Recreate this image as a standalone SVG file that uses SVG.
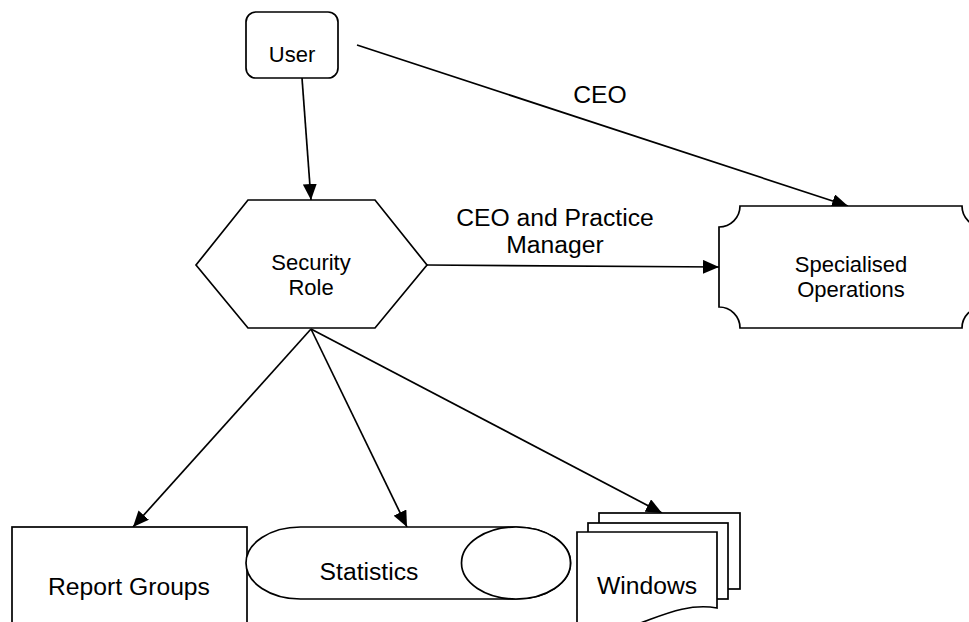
<svg xmlns="http://www.w3.org/2000/svg" width="969" height="622" viewBox="0 0 969 622">
<style>
.s{fill:#fff;stroke:#000;stroke-width:1.7}
.c{fill:none;stroke:#000;stroke-width:1.7}
text{font-family:"Liberation Sans",Arial,sans-serif;fill:#000;text-anchor:middle}
.n{font-size:22px}
.l{font-size:24.7px}
</style>
<defs>
<marker id="ah" viewBox="0 0 16 14" refX="16" refY="7" markerWidth="16" markerHeight="14" markerUnits="userSpaceOnUse" orient="auto">
<path d="M0,0 L16,7 L0,14 z" fill="#000"/>
</marker>
</defs>
<g id="connectors">
<line class="c" x1="302" y1="78" x2="311" y2="200" marker-end="url(#ah)"/>
<line class="c" x1="357" y1="45" x2="848" y2="206" marker-end="url(#ah)"/>
<line class="c" x1="427" y1="265" x2="719" y2="267" marker-end="url(#ah)"/>
<line class="c" x1="311" y1="329" x2="133" y2="527" marker-end="url(#ah)"/>
<line class="c" x1="311" y1="329" x2="407" y2="527" marker-end="url(#ah)"/>
<line class="c" x1="311" y1="329" x2="662" y2="513" marker-end="url(#ah)"/>
<text class="l" x="600" y="103">CEO</text>
<text class="l" x="555" y="226">CEO and Practice</text>
<text class="l" x="555" y="253">Manager</text>
</g>
<g id="user">
<rect class="s" x="246" y="12" width="92" height="66" rx="10"/>
<text class="n" x="292" y="62">User</text>
</g>
<g id="security-role">
<polygon class="s" points="248,200 375,200 427,265 375,328 248,328 196,265"/>
<text class="n" x="311" y="270">Security</text>
<text class="n" x="311" y="295">Role</text>
</g>
<g id="specialised-operations">
<path class="s" d="M740,206 H962 A21,21 0 0 0 983,227 V307 A21,21 0 0 0 962,328 H740 A21,21 0 0 0 719,307 V227 A21,21 0 0 0 740,206 Z"/>
<text class="n" x="851" y="272">Specialised</text>
<text class="n" x="851" y="297">Operations</text>
</g>
<g id="report-groups">
<rect class="s" x="12" y="527" width="235" height="120"/>
<text class="l" x="129" y="595">Report Groups</text>
</g>
<g id="statistics">
<path class="s" d="M300.5,527 H516 A54.5,36 0 0 1 516,599 H300.5 A54.5,36 0 0 1 300.5,527 Z"/>
<ellipse class="s" cx="516" cy="563" rx="54.5" ry="36"/>
<text class="l" x="369" y="580">Statistics</text>
</g>
<g id="windows">
<rect class="s" x="599" y="513" width="141" height="76"/>
<rect class="s" x="588" y="523" width="140" height="76"/>
<path class="s" d="M577,532 H717 V608 C690,603 665,614 643,622 C620,630 600,636 577,634 Z"/>
<text class="l" x="647" y="594">Windows</text>
</g>
</svg>
